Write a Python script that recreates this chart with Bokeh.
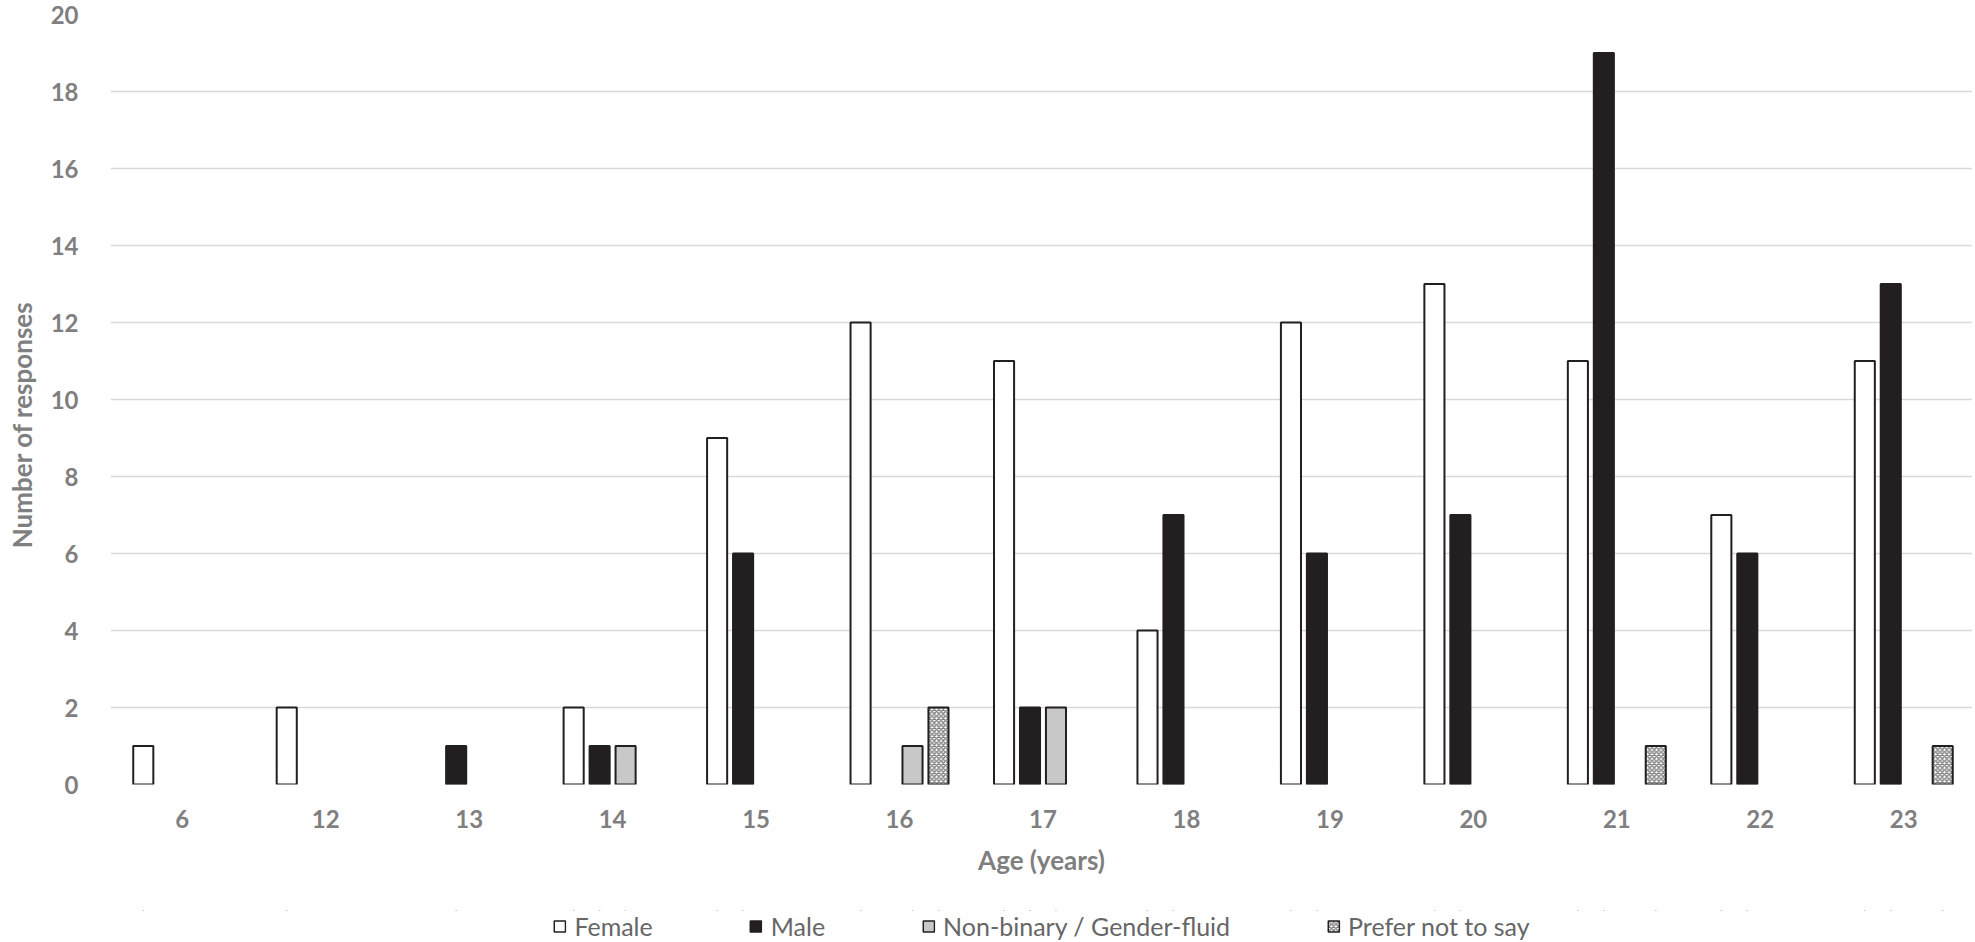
from bokeh.plotting import figure
from bokeh.layouts import column
from bokeh.models import FixedTicker, Range1d, Legend, LegendItem, ColumnDataSource
from bokeh.embed import file_html
from bokeh.resources import INLINE

# ---- data ----
ages = ["6", "12", "13", "14", "15", "16", "17", "18", "19", "20", "21", "22", "23"]
female = [1, 2, 0, 2, 9, 12, 11, 4, 12, 13, 11, 7, 11]
male = [0, 0, 1, 1, 6, 0, 2, 7, 6, 7, 19, 6, 13]
nonbinary = [0, 0, 0, 1, 0, 1, 2, 0, 0, 0, 0, 0, 0]
prefer_not = [0, 0, 0, 0, 0, 2, 0, 0, 0, 0, 1, 0, 1]
y_ticks = [0, 2, 4, 6, 8, 10, 12, 14, 16, 18, 20]

TEXT = "#7f7f7f"
DARK = "#231f20"

W = 1972
H_MAIN, H_LEG = 910, 31
LEFT, TOP = 110, 14
FRAME_BOTTOM = 784
CAT_PX = 143.46
frame_w = W - LEFT
x_rng = (-0.5, -0.5 + frame_w / CAT_PX)

p = figure(width=W, height=H_MAIN, output_backend="svg", toolbar_location=None,
           x_range=Range1d(*x_rng), y_range=Range1d(0, 20),
           min_border_left=LEFT, min_border_right=0, min_border_top=TOP,
           min_border_bottom=H_MAIN - FRAME_BOTTOM)
p.outline_line_color = None
p.xgrid.grid_line_color = None
p.ygrid.grid_line_color = "#d9d9d9"
p.ygrid.grid_line_width = 1.6

p.yaxis.ticker = FixedTicker(ticks=y_ticks)
p.xaxis.ticker = FixedTicker(ticks=list(range(len(ages))))
p.xaxis.major_label_overrides = {i: a for i, a in enumerate(ages)}

for ax in (p.xaxis[0], p.yaxis[0]):
    ax.axis_line_color = None
    ax.major_tick_line_color = None
    ax.minor_tick_line_color = None
    ax.major_label_text_font = "Lato"
    ax.major_label_text_font_style = "bold"
    ax.major_label_text_font_size = "24px"
    ax.major_label_text_color = TEXT
    ax.axis_label_text_font = "Lato"
    ax.axis_label_text_font_style = "bold"
    ax.axis_label_text_font_size = "26px"
    ax.axis_label_text_color = TEXT

p.xaxis.axis_label = "Age (years)"
p.xaxis.major_label_standoff = 19
p.xaxis.axis_label_standoff = 13
# trailing no-break spaces shift the visible title slightly below the centre, as in Excel
p.yaxis.axis_label = "Number of responses" + "\u00a0" * 8
p.yaxis.major_label_standoff = 26
p.yaxis.axis_label_standoff = 10

step = 0.181
bar_w = 0.14
series = [
    ("Female", female, dict(fill_color="white")),
    ("Male", male, dict(fill_color=DARK)),
    ("Non-binary / Gender-fluid", nonbinary, dict(fill_color="#c8c8c8")),
    ("Prefer not to say", prefer_not, dict(fill_color="white", hatch_pattern="diagonal_cross",
                                           hatch_scale=4.5, hatch_weight=1.4, hatch_color="#7a7a7a")),
]

# legend strip below the chart; its key renderers are zero-size and lie outside its range
q = figure(width=W, height=H_LEG, output_backend="svg", toolbar_location=None,
           x_axis_type=None, y_axis_type=None, x_range=Range1d(*x_rng), y_range=Range1d(-3, -2),
           min_border=0)
q.outline_line_color = None
q.xgrid.visible = False
q.ygrid.visible = False

items = []
for k, (name, vals, style) in enumerate(series):
    off = (k - 1.5) * step
    xs = [i + off for i, v in enumerate(vals) if v > 0]
    tops = [v for v in vals if v > 0]
    src = ColumnDataSource(dict(x=xs, top=tops))
    p.vbar(x="x", top="top", bottom=0, width=bar_w, source=src,
           line_color=DARK, line_width=2, **style)
    key = q.vbar(x="x", top="top", bottom="top", width=0, source=src,
                 line_color=DARK, line_width=1.5, **style)
    items.append(LegendItem(label=name, renderers=[key]))

legend = Legend(items=items, orientation="horizontal", location="center",
                glyph_width=14, glyph_height=14, label_standoff=8, spacing=96,
                padding=0, margin=0, border_line_color=None, background_fill_alpha=0,
                label_text_font="Lato", label_text_font_size="25px",
                label_text_color="#666666")
q.add_layout(legend, "center")

open("out.html", "w").write(file_html(column(p, q), INLINE))
